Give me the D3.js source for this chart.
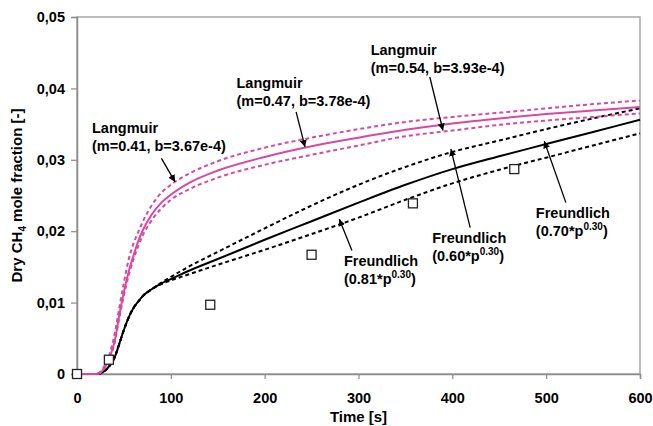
<!DOCTYPE html>
<html>
<head>
<meta charset="utf-8">
<script src="https://cdn.jsdelivr.net/npm/d3@7"></script>
<style>
  body { margin: 0; background: #fff; }
  text { font-family: "Liberation Sans", Arial, sans-serif; font-weight: bold; fill: #000; }
</style>
</head>
<body>
<div id="chart"></div>
<script>
const width = 653
const height = 426
const margin = {top: 17, bottom: 52, left: 77, right: 13}

// time samples (s) shared by every model curve
const times = [0, 10, 20, 25, 30, 35, 40, 45, 50, 55, 60, 65, 70, 80, 90, 100, 120, 150, 200, 250, 300, 350, 400, 450, 500, 550, 600]

// Freundlich curves (black)
const freundlich070 = [0, 0, 0, 0.0001, 0.0005, 0.0012, 0.0023, 0.0042, 0.0062, 0.0079, 0.0092, 0.0101, 0.0109, 0.0119, 0.0127, 0.0133, 0.0145, 0.0161, 0.0188, 0.0214, 0.0240, 0.0265, 0.0287, 0.0305, 0.0322, 0.0339, 0.0356]
const freundlich060 = [0, 0, 0, 0.0001, 0.0005, 0.0012, 0.0023, 0.0042, 0.0062, 0.0079, 0.0092, 0.0101, 0.0109, 0.0119, 0.0128, 0.0136, 0.0151, 0.0171, 0.0204, 0.0236, 0.0265, 0.0290, 0.0311, 0.0327, 0.0343, 0.0358, 0.0372]
const freundlich081 = [0, 0, 0, 0.0001, 0.0005, 0.0012, 0.0023, 0.0042, 0.0062, 0.0079, 0.0092, 0.0101, 0.0109, 0.0119, 0.0126, 0.0131, 0.0140, 0.0153, 0.0174, 0.0196, 0.0219, 0.0244, 0.0267, 0.0286, 0.0303, 0.0320, 0.0337]

// Langmuir curves (pink)
const langmuir047 = [0, 0, 0, 0.0002, 0.0010, 0.0024, 0.0045, 0.0082, 0.0115, 0.0143, 0.0165, 0.0185, 0.0201, 0.0224, 0.0240, 0.0251, 0.0268, 0.0285, 0.0304, 0.0319, 0.0331, 0.0342, 0.0351, 0.0358, 0.0364, 0.0369, 0.0374]
const langmuir041 = [0, 0, 0, 0.0003, 0.0013, 0.0029, 0.0055, 0.0092, 0.0128, 0.0160, 0.0182, 0.0198, 0.0213, 0.0237, 0.0254, 0.0265, 0.0281, 0.0298, 0.0317, 0.0331, 0.0343, 0.0353, 0.0360, 0.0366, 0.0372, 0.0378, 0.0383]
const langmuir054 = [0, 0, 0, 0.0002, 0.0009, 0.0022, 0.0043, 0.0078, 0.0110, 0.0138, 0.0160, 0.0178, 0.0194, 0.0216, 0.0232, 0.0244, 0.0259, 0.0275, 0.0293, 0.0307, 0.0320, 0.0333, 0.0341, 0.0349, 0.0355, 0.0360, 0.0365]

// measured points
const measTime = [0, 34, 142, 250, 358, 466]
const measValue = [0, 0.0020, 0.0097, 0.0167, 0.0239, 0.0287]

const xTicks = [0, 100, 200, 300, 400, 500, 600]
const yTicks = [0, 0.01, 0.02, 0.03, 0.04, 0.05]

const pink = "#d8499f"

// black first so the pink dashes stay visible on the baseline
const series = [
    {values: freundlich060, color: "#000", dash: "4,3"},
    {values: freundlich081, color: "#000", dash: "4,3"},
    {values: freundlich070, color: "#000", dash: null},
    {values: langmuir041, color: pink, dash: "4,3"},
    {values: langmuir054, color: pink, dash: "4,3"},
    {values: langmuir047, color: pink, dash: null}
]

// annotations: label lines, text anchor and arrow in data units
const notes = [
    {lines: ["Langmuir", "(m=0.41, b=3.67e-4)"], t: 16, v: 0.03375, from: [90, 0.0302], to: [104.5, 0.0269]},
    {lines: ["Langmuir", "(m=0.47, b=3.78e-4)"], t: 170, v: 0.0401, from: [233.5, 0.0367], to: [243, 0.0318]},
    {lines: ["Langmuir", "(m=0.54, b=3.93e-4)"], t: 313, v: 0.0447, from: [376, 0.0416], to: [390, 0.0341]},
    {lines: ["Freundlich", "(0.81*p", "0.30", ")"], t: 284.5, v: 0.0151, from: [293, 0.0173], to: [279.5, 0.0217]},
    {lines: ["Freundlich", "(0.60*p", "0.30", ")"], t: 378.5, v: 0.01835, from: [419, 0.0205], to: [398.5, 0.0315]},
    {lines: ["Freundlich", "(0.70*p", "0.30", ")"], t: 489, v: 0.02185, from: [521, 0.0240], to: [498, 0.0326]}
]

const svg = d3.select("#chart").append("svg").attr("width", width).attr("height", height)

const x = d3.scaleLinear().domain([0, 600]).range([margin.left, width - margin.right])
const y = d3.scaleLinear().domain([0, 0.05]).range([height - margin.bottom, margin.top])

svg.append("defs").append("marker")
    .attr("id", "arrow")
    .attr("viewBox", "0 0 10 10")
    .attr("refX", 10).attr("refY", 5)
    .attr("markerWidth", 7).attr("markerHeight", 7)
    .attr("markerUnits", "userSpaceOnUse")
    .attr("orient", "auto")
    .append("path").attr("d", "M0,0 L10,5 L0,10 z").attr("fill", "#000")

// plot frame
svg.append("rect")
    .attr("x", x(0)).attr("y", y(0.05))
    .attr("width", x(600) - x(0)).attr("height", y(0) - y(0.05))
    .attr("fill", "none").attr("stroke", "#a6a6a6").attr("stroke-width", 1.5)

// axes
const xAxis = d3.axisBottom(x).tickValues(xTicks).tickSize(5).tickPadding(14).tickFormat(d3.format("d"))
const yAxis = d3.axisLeft(y).tickValues(yTicks).tickSize(6).tickPadding(6)
    .tickFormat(d => d === 0 ? "0" : d3.format(".2f")(d).replace(".", ","))

const xAxisGroup = svg.append("g").attr("transform", `translate(0, ${y(0)})`).call(xAxis)
const yAxisGroup = svg.append("g").attr("transform", `translate(${x(0)}, 0)`).call(yAxis)
svg.selectAll(".domain").attr("stroke", "#8c8c8c").attr("stroke-width", 1.5)
svg.selectAll(".tick line").attr("stroke", "#8c8c8c").attr("stroke-width", 1.2)
svg.selectAll(".tick text").style("font-size", "14.5px").style("font-family", "Liberation Sans, Arial, sans-serif").attr("font-weight", "bold")

// axis titles
svg.append("text")
    .attr("x", (x(0) + x(600)) / 2).attr("y", 422)
    .attr("text-anchor", "middle").style("font-size", "15px")
    .text("Time [s]")

const yTitle = svg.append("text")
    .attr("transform", `translate(22, ${(y(0) + y(0.05)) / 2}) rotate(-90)`)
    .attr("text-anchor", "middle").style("font-size", "15px")
yTitle.append("tspan").text("Dry CH")
yTitle.append("tspan").attr("dy", 4).style("font-size", "10px").text("4")
yTitle.append("tspan").attr("dy", -4).text(" mole fraction [-]")

// curves
const line = d3.line()
    .x((d, i) => x(times[i]))
    .y(d => y(d))
    .curve(d3.curveMonotoneX)

svg.append("g").selectAll("path").data(series).enter()
    .append("path")
    .attr("d", d => line(d.values))
    .attr("fill", "none")
    .attr("stroke", d => d.color)
    .attr("stroke-width", 2)
    .attr("stroke-dasharray", d => d.dash)

// measured squares
const meas = measTime.map((t, i) => ({t: t, v: measValue[i]}))
svg.append("g").selectAll("rect").data(meas).enter()
    .append("rect")
    .attr("x", d => x(d.t) - 4.5)
    .attr("y", d => y(d.v) - 4.5)
    .attr("width", 9).attr("height", 9)
    .attr("fill", "#fff").attr("stroke", "#222").attr("stroke-width", 1.3)

// annotations
const noteGroup = svg.append("g").style("font-size", "14.5px")
notes.forEach(n => {
    noteGroup.append("line")
        .attr("x1", x(n.from[0])).attr("y1", y(n.from[1]))
        .attr("x2", x(n.to[0])).attr("y2", y(n.to[1]))
        .attr("stroke", "#000").attr("stroke-width", 1.3)
        .attr("marker-end", "url(#arrow)")

    noteGroup.append("text").attr("x", x(n.t)).attr("y", y(n.v)).text(n.lines[0])
    const second = noteGroup.append("text").attr("x", x(n.t)).attr("y", y(n.v) + 18)
    second.append("tspan").text(n.lines[1])
    if (n.lines.length > 2) {
        second.append("tspan").attr("dy", -6).style("font-size", "10px").text(n.lines[2])
        second.append("tspan").attr("dy", 6).text(n.lines[3])
    }
})
</script>
</body>
</html>
